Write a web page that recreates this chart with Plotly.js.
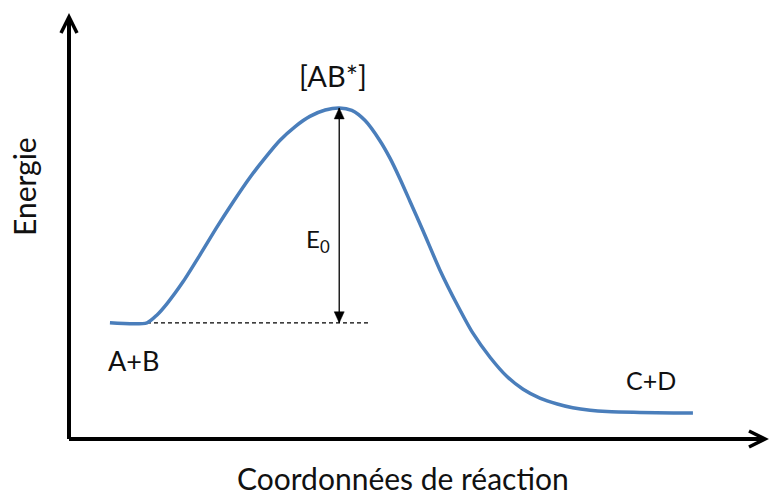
<!DOCTYPE html>
<html>
<head>
<meta charset="utf-8">
<script src="https://cdn.plot.ly/plotly-3.0.1.min.js"></script>
<style>html,body{margin:0;padding:0;background:#fff;}#chart{width:769px;height:499px;}</style>
</head>
<body>
<div id="chart"></div>
<script>
// Reaction coordinate (arbitrary units 0-100)
var reactionCoord = [6.0, 11.3, 12.7, 14.2, 16.5, 18.9, 21.3, 23.6, 26.0, 28.2, 30.3, 32.5, 34.6, 36.8, 38.8,
  40.6, 42.5, 44.6, 46.1, 47.5, 48.9, 50.8, 53.2, 55.7, 57.9, 60.4, 62.8, 65.1, 67.5, 70.0, 72.2, 74.7, 77.1, 81.8, 86.6, 89.4];
// Energy (arbitrary units 0-100)
var energy = [27.0, 27.0, 28.8, 31.6, 36.8, 43.1, 49.6, 55.5, 61.3, 66.0, 70.1, 73.4, 75.8, 77.3, 77.8,
  77.2, 74.8, 70.1, 65.8, 61.0, 55.8, 48.7, 39.5, 31.2, 24.6, 18.8, 14.3, 11.3, 9.2, 7.8, 6.9, 6.3, 6.0, 5.8, 5.7, 5.7];
var labelReactants = "A+B";
var labelProducts = "C+D";
var labelTransition = "[AB*]";
var labelActivation = "E<sub>0</sub>";
var xTitle = "Coordonnées de réaction";
var yTitle = "Energie";
var dashedEndX = 43.2;

var reactantE = energy[0];
var peakE = Math.max.apply(null, energy);
var peakX = reactionCoord[energy.indexOf(peakE)];
var reactantEndX = reactionCoord[1];

var font = "Lato, 'Open Sans', sans-serif";
var trace = {
  x: reactionCoord, y: energy, type: 'scatter', mode: 'lines',
  line: {color: '#4a7ebb', width: 3.5, shape: 'spline', smoothing: 0.7},
  hoverinfo: 'skip', showlegend: false
};

function px2paperX(p){ return (p-69)/696; }
function px2paperY(p){ return (439-p)/422; }
function label(text, px, py, size, angle){
  return {xref: 'paper', yref: 'paper', x: px2paperX(px), y: px2paperY(py), text: text, showarrow: false,
    xanchor: 'center', yanchor: 'middle', textangle: angle || 0, font: {family: font, size: size, color: '#111'}};
}

var layout = {
  width: 769, height: 499,
  margin: {l: 69, r: 4, t: 17, b: 60},
  paper_bgcolor: '#fff', plot_bgcolor: '#fff',
  showlegend: false,
  xaxis: {range: [0.143, 99.71], showgrid: false, zeroline: false, showline: false, showticklabels: false, ticks: '', fixedrange: true},
  yaxis: {range: [-0.473, 99.29], showgrid: false, zeroline: false, showline: false, showticklabels: false, ticks: '', fixedrange: true},
  shapes: [
    // axes with open arrow heads
    {type: 'line', xref: 'paper', yref: 'paper', x0: 0, y0: 0, x1: 0, y1: 1, line: {color: '#000', width: 4}, layer: 'above'},
    {type: 'line', xref: 'paper', yref: 'paper', x0: 0, y0: 0, x1: 1, y1: 0, line: {color: '#000', width: 4}, layer: 'above'},
    {type: 'path', xref: 'paper', yref: 'paper', xsizemode: 'pixel', ysizemode: 'pixel', xanchor: 0, yanchor: 1,
      path: 'M-8,-16L0,0L8,-16', line: {color: '#000', width: 3.5}},
    {type: 'path', xref: 'paper', yref: 'paper', xsizemode: 'pixel', ysizemode: 'pixel', xanchor: 1, yanchor: 0,
      path: 'M-16,8L0,0L-16,-8', line: {color: '#000', width: 3.5}},
    // dashed reactant level
    {type: 'line', xref: 'x', yref: 'y', x0: reactantEndX, y0: reactantE, x1: dashedEndX, y1: reactantE,
      line: {color: '#000', width: 1.2, dash: '4px,3px'}, layer: 'below'},
    // E0 double arrow
    {type: 'line', xref: 'x', yref: 'y', x0: peakX, y0: peakE, x1: peakX, y1: reactantE,
      line: {color: '#000', width: 1.3}},
    {type: 'path', xref: 'x', yref: 'y', xsizemode: 'pixel', ysizemode: 'pixel', xanchor: peakX, yanchor: peakE,
      path: 'M0,0L-5,-11L5,-11Z', fillcolor: '#000', line: {color: '#000', width: 0.5}},
    {type: 'path', xref: 'x', yref: 'y', xsizemode: 'pixel', ysizemode: 'pixel', xanchor: peakX, yanchor: reactantE,
      path: 'M0,0L-5,11L5,11Z', fillcolor: '#000', line: {color: '#000', width: 0.5}}
  ],
  annotations: [
    label(labelTransition, 333, 76, 29),
    label(labelActivation, 318, 241, 24),
    label(labelReactants, 133, 360, 27),
    label(labelProducts, 651, 380, 25),
    label(xTitle, 403, 478, 30),
    label(yTitle, 24, 187, 30, -90)
  ]
};
Plotly.newPlot('chart', [trace], layout, {displayModeBar: false, staticPlot: true});
</script>
</body>
</html>
